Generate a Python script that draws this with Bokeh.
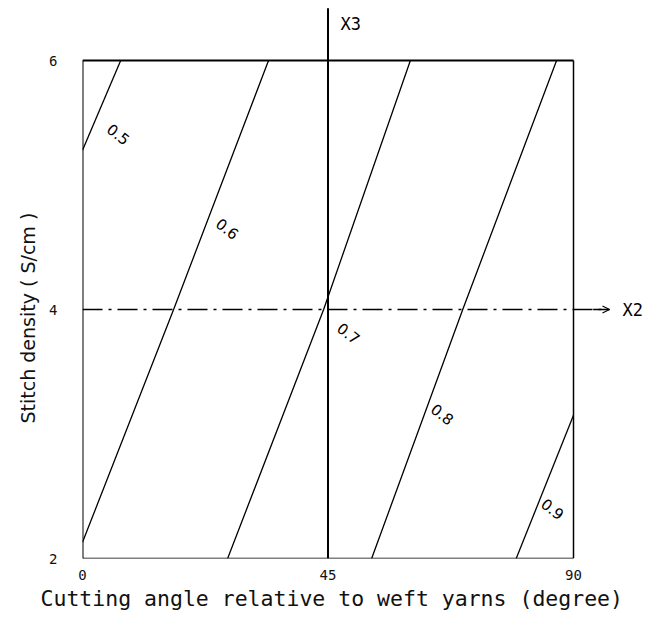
from bokeh.plotting import figure
from bokeh.models import Range1d, FixedTicker, Title, Arrow, OpenHead, ColumnDataSource
from bokeh.core.properties import value
from bokeh.embed import file_html
from bokeh.resources import INLINE

# ---- data -------------------------------------------------------------
x_ticks = [0, 45, 90]
y_ticks = [2, 4, 6]
box_x = [0, 90]
box_y = [2, 6]
center_x = 45
center_y = 4

c05_x = [0.0, 7.0]
c05_y = [5.28, 6.0]
c06_x = [0.0, 16.7, 34.1]
c06_y = [2.13, 4.0, 6.0]
c07_x = [26.6, 44.2, 60.1]
c07_y = [2.0, 4.0, 6.0]
c08_x = [53.0, 69.7, 86.9]
c08_y = [2.0, 4.0, 6.0]
c09_x = [79.5, 90.0]
c09_y = [2.0, 3.15]

levels = ["0.5", "0.6", "0.7", "0.8", "0.9"]
label_x = [6.6, 26.6, 48.8, 66.0, 86.2]
label_y = [5.41, 4.65, 3.81, 3.16, 2.40]

x_title = "Cutting angle relative to weft yarns (degree)"
y_title = "Stitch density ( S/cm )"

# ---- layout -----------------------------------------------------------
W, H = 643, 613
BL, BB = 82, 55
box_px_w, box_px_h = 491, 498
x_end = (W - BL) * (box_x[1] - box_x[0]) / box_px_w
y_end = box_y[0] + (H - BB) * (box_y[1] - box_y[0]) / box_px_h
x2_end = 96.6
x3_top = 6.42

p = figure(width=W, height=H, output_backend="svg", toolbar_location=None,
           x_range=Range1d(box_x[0], x_end), y_range=Range1d(box_y[0], y_end),
           min_border_left=BL, min_border_right=0, min_border_top=0,
           min_border_bottom=BB)
p.outline_line_color = None
p.grid.visible = False
p.background_fill_color = "white"
p.border_fill_color = "white"

for ax, ticks, standoff in ((p.xaxis, x_ticks, 11), (p.yaxis, y_ticks, 25)):
    ax.ticker = FixedTicker(ticks=ticks)
    ax.axis_line_color = None
    ax.major_tick_line_color = None
    ax.minor_tick_line_color = None
    ax.major_tick_out = 0
    ax.major_tick_in = 0
    ax.minor_tick_out = 0
    ax.major_label_text_font = "DejaVu Sans Mono"
    ax.major_label_text_font_size = "14px"
    ax.major_label_text_color = "#111111"
    ax.major_label_standoff = standoff

# box
p.line([box_x[0], box_x[0]], box_y, line_color="black", line_width=2)
p.line(box_x, [box_y[1], box_y[1]], line_color="black", line_width=2)
p.line([box_x[1], box_x[1]], box_y, line_color="black", line_width=1.5)
p.line(box_x, [box_y[0], box_y[0]], line_color="black", line_width=1.5)

# X3 axis (vertical) and X2 axis (horizontal dash-dot with arrow)
p.line([center_x, center_x], [box_y[0], x3_top], line_color="black", line_width=2)
p.line([box_x[0], x2_end], [center_y, center_y], line_color="black", line_width=1.3,
       line_dash="20 6 3 6")
p.add_layout(Arrow(end=OpenHead(size=7, line_width=1.2, line_color="black"),
                   x_start=x2_end - 3, y_start=center_y, x_end=x2_end, y_end=center_y,
                   line_color="black", line_width=1.3))

# contour lines
for xs, ys in ((c05_x, c05_y), (c06_x, c06_y), (c07_x, c07_y), (c08_x, c08_y), (c09_x, c09_y)):
    p.line(xs, ys, line_color="black", line_width=1.3)

# contour labels
src = ColumnDataSource(dict(x=label_x, y=label_y, t=levels))
p.text("x", "y", text="t", source=src, angle=-0.66, text_align="center",
       text_baseline="middle", text_font=value("DejaVu Sans"),
       text_font_size="15px", text_color="black")

# axis names
p.text([center_x + 2.3], [x3_top - 0.13], text=["X3"], text_align="left",
       text_baseline="middle", text_font=value("DejaVu Sans Mono"),
       text_font_size="17px", text_color="black")
p.text([x2_end + 2.4], [center_y], text=["X2"], text_align="left",
       text_baseline="middle", text_font=value("DejaVu Sans Mono"),
       text_font_size="17px", text_color="black")

# axis titles
p.add_layout(Title(text=x_title, align="left", offset=-42, standoff=3,
                   text_font="DejaVu Sans Mono", text_font_size="21.5px",
                   text_font_style="normal", text_color="#111111"), "below")
p.add_layout(Title(text=y_title, align="left", offset=135, standoff=16,
                   text_font="DejaVu Sans", text_font_size="19px",
                   text_font_style="normal", text_color="#111111"), "left")

open("out.html", "w").write(file_html(p, INLINE))
